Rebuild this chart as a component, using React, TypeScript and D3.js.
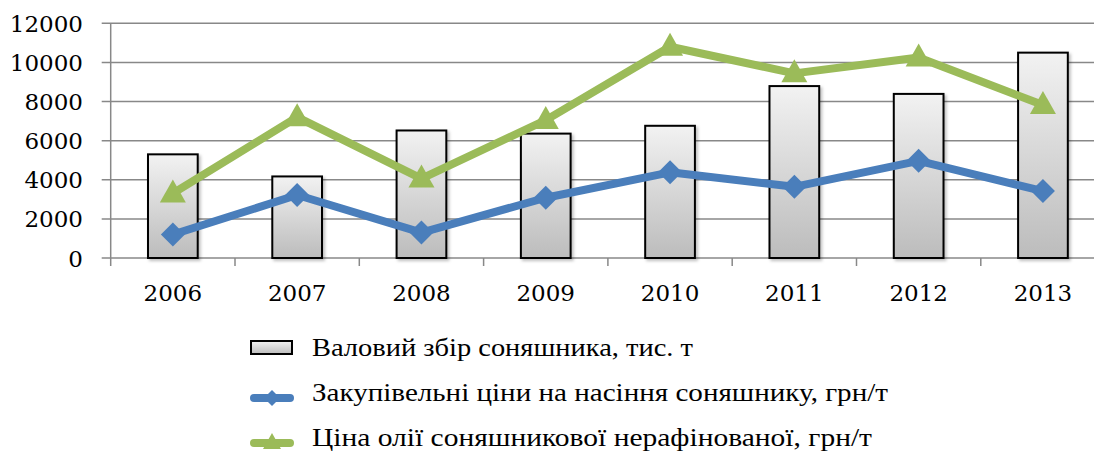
import React from "react";
import * as d3 from "d3";

const years = ["2006", "2007", "2008", "2009", "2010", "2011", "2012", "2013"];
const harvest = [5300, 4170, 6520, 6360, 6760, 8790, 8390, 10500];
const seedPrice = [1200, 3220, 1300, 3080, 4380, 3640, 4970, 3420];
const oilPrice = [3300, 7200, 4060, 7050, 10800, 9440, 10250, 7820];
const yTicks = [0, 2000, 4000, 6000, 8000, 10000, 12000];
const legendLabels = [
  "Валовий збір соняшника, тис. т",
  "Закупівельні ціни на насіння соняшнику, грн/т",
  "Ціна олії соняшникової нерафінованої, грн/т",
];

const W = 1094;
const H = 454;
const left = 110.7;
const step = 124.3;
const top = 23.3;
const bottom = 258;

export default function App() {
  const x = d3.scaleBand<string>().domain(years).range([left, left + step * years.length]).paddingInner(0.6).paddingOuter(0.3);
  const y = d3.scaleLinear().domain([0, 12000]).range([bottom, top]);
  const cx = (yr: string) => (x(yr) as number) + x.bandwidth() / 2;
  const line = d3.line<number>().x((_, i) => cx(years[i])).y((v) => y(v));
  const diamond = (s: number) => `M0,${-s}L${s},0L0,${s}L${-s},0Z`;
  const tri = "M0,-14L13,9L-13,9Z";
  const grid = "#888888";
  const blue = "#4a7ebb";
  const green = "#9bbb59";
  const numFont = "'DejaVu Serif', serif";
  const legFont = "'Liberation Serif', serif";
  const legendWidths = [381, 576, 560];
  const legendY = [356, 401, 446];

  return (
    <svg width={W} height={H} style={{ position: "absolute", left: 0, top: 0, background: "#fff" }}>
      <defs>
        <linearGradient id="barGrad" x1="0" y1="0" x2="0" y2="1">
          <stop offset="0" stopColor="#f2f2f2" />
          <stop offset="1" stopColor="#bcbcbc" />
        </linearGradient>
        <filter id="sh" x="-20%" y="-5%" width="150%" height="115%">
          <feDropShadow dx="2" dy="2" stdDeviation="1.5" floodColor="#000" floodOpacity="0.25" />
        </filter>
      </defs>
      {yTicks.map((t) => (
        <g key={t}>
          <line x1={left - 9} x2={W} y1={y(t)} y2={y(t)} stroke={grid} strokeWidth={1.5} />
          <text x={83} y={y(t) + 8.5} textAnchor="end" fontFamily={numFont} fontSize={23} fill="#000">
            {t}
          </text>
        </g>
      ))}
      <line x1={left} x2={left} y1={top} y2={bottom + 8} stroke={grid} strokeWidth={1.5} />
      {years.map((yr, i) => (
        <line key={"t" + yr} x1={left + step * (i + 1)} x2={left + step * (i + 1)} y1={bottom} y2={bottom + 8} stroke={grid} strokeWidth={1.5} />
      ))}
      {years.map((yr) => (
        <text key={"l" + yr} x={cx(yr)} y={301} textAnchor="middle" fontFamily={numFont} fontSize={23} fill="#000">
          {yr}
        </text>
      ))}
      {harvest.map((v, i) => (
        <rect
          key={"b" + i}
          x={x(years[i]) as number}
          y={y(v)}
          width={x.bandwidth()}
          height={bottom - y(v)}
          fill="url(#barGrad)"
          stroke="#000"
          strokeWidth={2}
          filter="url(#sh)"
        />
      ))}
      <path d={line(oilPrice) || ""} fill="none" stroke={green} strokeWidth={8} strokeLinejoin="round" />
      {oilPrice.map((v, i) => (
        <path key={"g" + i} d={tri} transform={`translate(${cx(years[i])},${y(v)})`} fill={green} />
      ))}
      <path d={line(seedPrice) || ""} fill="none" stroke={blue} strokeWidth={8} strokeLinejoin="round" />
      {seedPrice.map((v, i) => (
        <path key={"d" + i} d={diamond(12)} transform={`translate(${cx(years[i])},${y(v)})`} fill={blue} />
      ))}
      {/* legend */}
      <rect x={251} y={341} width={41} height={13} fill="url(#barGrad)" stroke="#000" strokeWidth={2} />
      <line x1={254} x2={290} y1={398} y2={398} stroke={blue} strokeWidth={8} strokeLinecap="round" />
      <path d={diamond(8)} transform="translate(272,398)" fill={blue} />
      <line x1={254} x2={290} y1={443} y2={443} stroke={green} strokeWidth={8} strokeLinecap="round" />
      <path d="M0,-10L9,6L-9,6Z" transform="translate(272,443)" fill={green} />
      {legendLabels.map((l, i) => (
        <text
          key={"lg" + i}
          x={312}
          y={legendY[i]}
          fontFamily={legFont}
          fontSize={26}
          fill="#000"
          textLength={legendWidths[i]}
          lengthAdjust="spacingAndGlyphs"
        >
          {l}
        </text>
      ))}
    </svg>
  );
}
